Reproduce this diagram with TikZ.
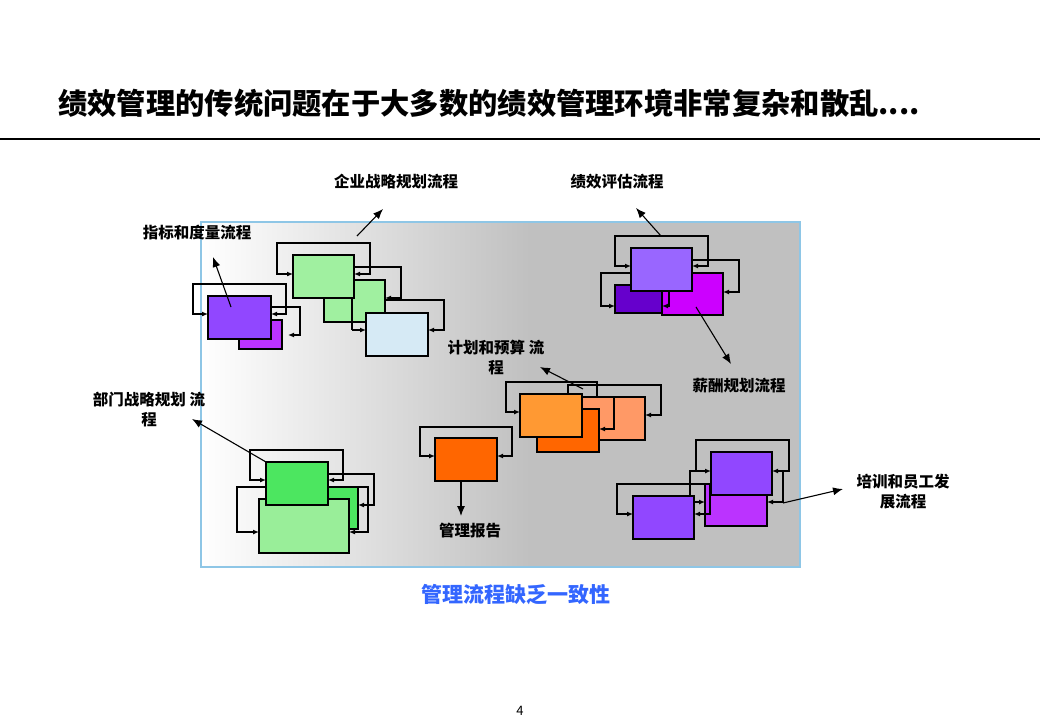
\documentclass[tikz,border=0pt]{standalone}
\usepackage{fontspec}
\setmainfont{Noto Sans CJK SC}
\usetikzlibrary{arrows.meta}
\definecolor{bggray}{HTML}{C0C0C0}
\definecolor{bord}{HTML}{8EC6E6}
\definecolor{cpurple}{HTML}{9147FF}
\definecolor{cmagenta}{HTML}{BB33FF}
\definecolor{lgreen}{HTML}{A0F0A0}
\definecolor{lblue}{HTML}{D6EAF5}
\definecolor{lpurple}{HTML}{9966FF}
\definecolor{dpurple}{HTML}{6600CC}
\definecolor{vmagenta}{HTML}{CC00FF}
\definecolor{salmon}{HTML}{FF9966}
\definecolor{dorange}{HTML}{FF6600}
\definecolor{lorange}{HTML}{FF9933}
\definecolor{bgreen}{HTML}{4CE660}
\definecolor{pgreen}{HTML}{99EE99}
\definecolor{footblue}{HTML}{3366FF}
\begin{document}
\begin{tikzpicture}[x=1pt,y=-1pt,
 box/.style={draw=black, line width=1.2pt, anchor=north west, inner sep=0pt, outer sep=0pt},
 conn/.style={draw=black, line width=1.2pt, {Latex[length=6pt,width=5pt]}-{Latex[length=6pt,width=5pt]}},
 cone/.style={draw=black, line width=1.2pt, -{Latex[length=6pt,width=5pt]}},
 plain/.style={draw=black, line width=1.2pt},
 ptr/.style={draw=black, line width=1.1pt, -{Latex[length=10pt,width=8pt]}},
 lbl/.style={font=\bfseries\fontsize{15.5}{20}\selectfont, align=center, inner sep=0pt},
]
\useasboundingbox (0,0) rectangle (1040,720);
\fill[white] (0,0) rectangle (1040,720);

% title and rule
\node[anchor=west, inner sep=0pt, font=\bfseries\fontsize{29.3}{33}\selectfont] (title) at (58,103) {绩效管理的传统问题在于大多数的绩效管理环境非常复杂和散乱....};
\draw[line width=1.5pt] (0,139) -- (1040,139);

% background panel
\shade[left color=white, right color=bggray] (201,222) rectangle (530,567);
\fill[bggray] (530,222) rectangle (800,567);
\draw[bord, line width=1.2pt] (201,222) rectangle (800,567);

% ---- cluster A: 指标和度量流程
\node[box, fill=cmagenta, minimum width=43pt, minimum height=29pt] (A2) at (239,320) {};
\node[box, fill=cpurple, minimum width=63pt, minimum height=43pt] (A1) at (208,296) {};
\draw[conn] (A1.west|-0,314) -- (193,314) -- (193,284) -- (286,284) -- (286,314) -- (A1.east|-0,314);
\draw[cone] (A1.east|-0,307) -- (300,307) -- (300,335) -- (288,335);
\node[lbl] (LA) at (197,233) {指标和度量流程};
\coordinate (Ae) at (213,257);
\draw[ptr] (231,307) -- (Ae);

% ---- cluster B: 企业战略规划流程
\node[box, fill=lgreen, minimum width=61pt, minimum height=42pt] (B2) at (324,280) {};
\node[box, fill=lgreen, minimum width=61pt, minimum height=43pt] (B1) at (293,255) {};
\draw[plain] (352,0|-B1.south) -- (352,330);
\node[box, fill=lblue, minimum width=62pt, minimum height=43pt] (B3) at (366,313) {};
\draw[cone] (352,330) -- (B3.west|-0,330);
\draw[conn] (B1.west|-0,274) -- (277,274) -- (277,243) -- (370,243) -- (370,274) -- (B1.east|-0,274);
\draw[cone] (B1.east|-0,267) -- (401,267) -- (401,298) -- (B2.east|-0,298);
\draw[cone] (B2.east|-0,300) -- (444,300) -- (444,330) -- (B3.east|-0,330);
\node[lbl] (LB) at (396,182) {企业战略规划流程};
\coordinate (Bs) at (357,236);
\coordinate (Be) at (383,209);
\draw[ptr] (Bs) -- (Be);

% ---- cluster C: 绩效评估流程 / 薪酬规划流程
\node[box, fill=dpurple, minimum width=48pt, minimum height=28pt] (C2) at (615,285) {};
\node[box, fill=vmagenta, minimum width=61pt, minimum height=42pt] (C3) at (662,273) {};
\node[box, fill=lpurple, minimum width=61pt, minimum height=43pt] (C1) at (631,248) {};
\draw[conn] (C1.west|-0,266) -- (615,266) -- (615,236) -- (708,236) -- (708,266) -- (C1.east|-0,266);
\draw[cone] (C1.east|-0,260) -- (739,260) -- (739,292) -- (C3.east|-0,292);
\draw[cone] (C1.west|-0,273) -- (601,273) -- (601,306) -- (C2.west|-0,306);
\draw[cone] (669,0|-C1.south) -- (669,306) -- (662,306);
\node[lbl] (LC) at (617,182) {绩效评估流程};
\node[lbl] (LC2) at (739,386) {薪酬规划流程};
\coordinate (Cs) at (661,236);
\coordinate (Ce) at (636,208);
\draw[ptr] (Cs) -- (Ce);
\coordinate (Cs2) at (696,307);
\coordinate (Ce2) at (731,364);
\draw[ptr] (Cs2) -- (Ce2);

% ---- cluster D: 计划和预算流程
\node[box, fill=salmon, minimum width=70pt, minimum height=43pt] (D3) at (575,397) {};
\node[box, fill=dorange, minimum width=62pt, minimum height=43pt] (D2) at (537,409) {};
\node[box, fill=lorange, minimum width=62pt, minimum height=43pt] (D1) at (520,394) {};
\draw[conn] (D1.west|-0,412) -- (506,412) -- (506,382) -- (597,382) -- (597,397) -- (614,397) -- (614,429) -- (D2.east|-0,429);
\draw[cone] (568,0|-D1.north) -- (568,385) -- (661,385) -- (661,415) -- (D3.east|-0,415);
\node[lbl] (LD) at (496,358) {计划和预算 流\\程};
\coordinate (Ds) at (583,389);
\coordinate (De) at (540,367);
\draw[ptr] (Ds) -- (De);

% ---- cluster E: 管理报告
\node[box, fill=dorange, minimum width=62pt, minimum height=43pt] (E1) at (435,438) {};
\draw[conn] (E1.west|-0,456) -- (420,456) -- (420,427) -- (512,427) -- (512,456) -- (E1.east|-0,456);
\node[lbl] (LE) at (470,531) {管理报告};
\coordinate (Ee) at (461,516);
\draw[ptr] (461,0|-E1.south) -- (Ee);

% ---- cluster F: 部门战略规划流程
\node[box, fill=bgreen, minimum width=58pt, minimum height=42pt] (F2) at (300,487) {};
\node[box, fill=pgreen, minimum width=90pt, minimum height=54pt] (F3) at (259,499) {};
\node[box, fill=bgreen, minimum width=62pt, minimum height=43pt] (F1) at (266,462) {};
\draw[conn] (F1.west|-0,480) -- (250,480) -- (250,450) -- (343,450) -- (343,480) -- (F1.east|-0,480);
\draw[cone] (F1.east|-0,474) -- (374,474) -- (374,505) -- (F2.east|-0,505);
\draw[cone] (F1.west|-0,487) -- (237,487) -- (237,532) -- (F3.west|-0,532);
\draw[cone] (F2.north east) -- (368,487) -- (368,532) -- (F3.east|-0,532);
\node[lbl] (LF) at (149,410) {部门战略规划 流\\程};
\coordinate (Fe) at (192,419);
\draw[ptr] (F1.north west) -- (Fe);

% ---- cluster G: 培训和员工发展流程
\node[box, fill=cmagenta, minimum width=62pt, minimum height=42pt] (G2) at (705,484) {};
\node[box, fill=cpurple, minimum width=61pt, minimum height=43pt] (G1) at (711,452) {};
\node[box, fill=cpurple, minimum width=61pt, minimum height=43pt] (G3) at (633,496) {};
\draw[conn] (G1.west|-0,471) -- (696,471) -- (696,440) -- (789,440) -- (789,471) -- (G1.east|-0,471);
\draw[plain] (690,0|-G3.north) -- (690,471) -- (696,471);
\draw[cone] (783,471) -- (783,502) -- (G2.east|-0,502);
\draw[cone] (G3.east|-0,502) -- (G2.west|-0,502);
\draw[conn] (G3.west|-0,514) -- (617,514) -- (617,484) -- (710,484) -- (710,514) -- (G3.east|-0,514);
\node[lbl] (LG) at (903,492) {培训和员工发\\展流程};
\coordinate (Gs) at (783,503);
\coordinate (Ge) at (843,489);
\draw[ptr] (Gs) -- (Ge);

% footer
\node[inner sep=0pt, text=footblue, font=\bfseries\fontsize{21}{24}\selectfont] (foot) at (516,595) {管理流程缺乏一致性};
\node[inner sep=0pt, font=\fontsize{13}{15}\selectfont] (pnum) at (520,711) {4};
\end{tikzpicture}
\end{document}
